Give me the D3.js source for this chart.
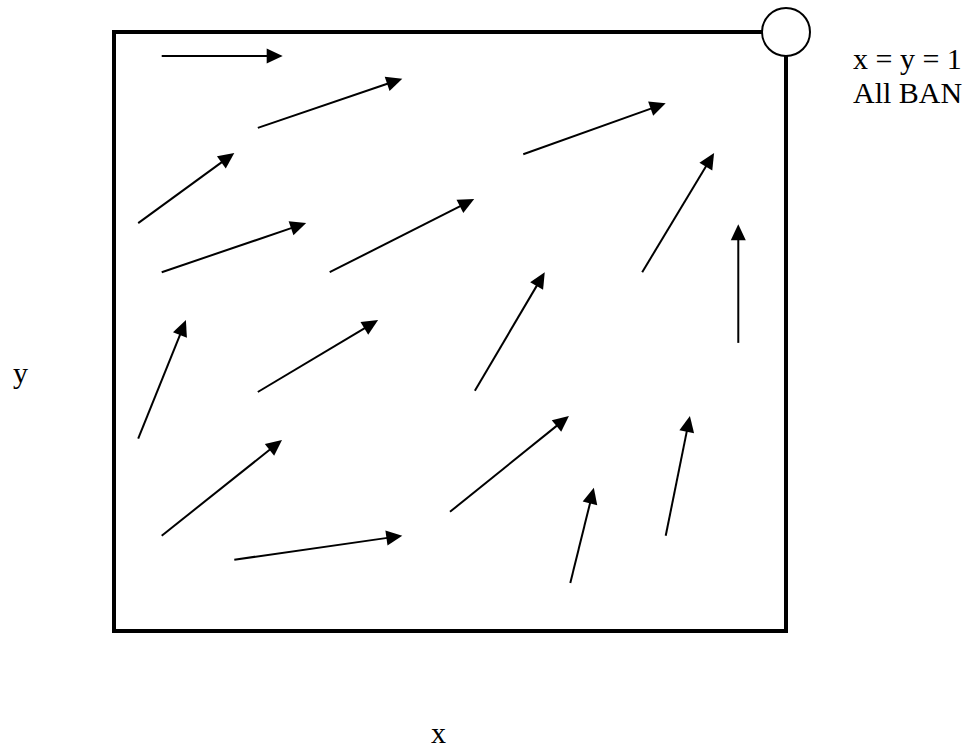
<!DOCTYPE html>
<html>
<head>
<meta charset="utf-8">
<script src="https://cdn.jsdelivr.net/npm/d3@7"></script>
<style>
  body { margin: 0; background: #fff; }
  text { font-family: "Liberation Serif", "Times New Roman", serif; font-size: 30px; fill: #000; }
</style>
</head>
<body>
<div id="chart"></div>
<script>
// Arrow tails and heads, in unit-square coordinates (0..1 on each axis)
var tailX = [0.071, 0.214, 0.036, 0.071, 0.321, 0.609, 0.786, 0.929, 0.537, 0.036, 0.214, 0.071, 0.179, 0.500, 0.679, 0.821];
var tailY = [0.960, 0.840, 0.681, 0.599, 0.599, 0.796, 0.599, 0.481, 0.401, 0.321, 0.399, 0.159, 0.119, 0.199, 0.080, 0.159];
var headX = [0.251, 0.429, 0.179, 0.286, 0.536, 0.821, 0.893, 0.929, 0.641, 0.107, 0.393, 0.250, 0.429, 0.677, 0.714, 0.857];
var headY = [0.960, 0.922, 0.798, 0.681, 0.721, 0.881, 0.798, 0.679, 0.599, 0.519, 0.519, 0.319, 0.159, 0.359, 0.239, 0.359];

var noteLines = ["x = y = 1", "All BAN"];
var xLabel = "x", yLabel = "y";

var W = 975, H = 752;
var box = {left: 114, top: 32, right: 786, bottom: 631};

var xScale = d3.scaleLinear().domain([0, 1]).range([box.left, box.right]);
var yScale = d3.scaleLinear().domain([0, 1]).range([box.bottom, box.top]);

var svg = d3.select("#chart").append("svg")
    .attr("width", W)
    .attr("height", H);

// frame
svg.append("rect")
    .attr("x", xScale(0))
    .attr("y", yScale(1))
    .attr("width", xScale(1) - xScale(0))
    .attr("height", yScale(0) - yScale(1))
    .attr("fill", "none")
    .attr("stroke", "#000")
    .attr("stroke-width", 4);

// circle on the x = y = 1 corner
svg.append("circle")
    .attr("cx", xScale(1))
    .attr("cy", yScale(1))
    .attr("r", 24)
    .attr("fill", "#fff")
    .attr("stroke", "#000")
    .attr("stroke-width", 2);

// arrows
var arrows = tailX.map(function(d, i) {
  return {x0: d, y0: tailY[i], x1: headX[i], y1: headY[i]};
});

var headLen = 16, headHalf = 7.5;

var g = svg.selectAll("g.arrow")
    .data(arrows)
    .enter()
    .append("g")
    .attr("class", "arrow");

g.each(function(d) {
  var ax = xScale(d.x0), ay = yScale(d.y0),
      bx = xScale(d.x1), by = yScale(d.y1);
  var dx = bx - ax, dy = by - ay, len = Math.sqrt(dx * dx + dy * dy);
  var ux = dx / len, uy = dy / len;
  var baseX = bx - ux * headLen, baseY = by - uy * headLen;

  d3.select(this).append("line")
      .attr("x1", ax).attr("y1", ay)
      .attr("x2", baseX + ux).attr("y2", baseY + uy)
      .attr("stroke", "#000")
      .attr("stroke-width", 2);

  d3.select(this).append("path")
      .attr("d", "M" + bx + "," + by +
                 "L" + (baseX - uy * headHalf) + "," + (baseY + ux * headHalf) +
                 "L" + (baseX + uy * headHalf) + "," + (baseY - ux * headHalf) + "Z")
      .attr("fill", "#000");
});

// side note
svg.append("g").selectAll("text")
    .data(noteLines)
    .enter()
    .append("text")
    .attr("x", 853)
    .attr("y", function(d, i) { return 69 + i * 34; })
    .text(function(d) { return d; });

// axis labels
svg.append("text")
    .attr("x", 13)
    .attr("y", 383)
    .text(yLabel);

svg.append("text")
    .attr("x", 431)
    .attr("y", 743)
    .text(xLabel);
</script>
</body>
</html>
